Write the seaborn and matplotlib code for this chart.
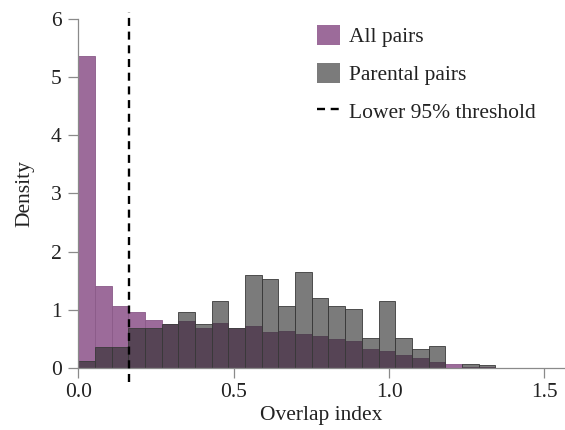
import numpy as np
import pandas as pd
import matplotlib
matplotlib.use("Agg")
import matplotlib.pyplot as plt
from matplotlib.patches import Patch
from matplotlib.lines import Line2D
import seaborn as sns

# ---- data ----
bin_width = 1.61 / 30
all_pairs = [5.36, 1.40, 1.07, 0.954, 0.815, 0.75, 0.80, 0.688, 0.769, 0.69,
             0.72, 0.62, 0.636, 0.572, 0.54, 0.497, 0.468, 0.33, 0.29, 0.22,
             0.16, 0.104, 0.055, 0.02, 0.02]
parental_pairs = [0.116, 0.364, 0.364, 0.688, 0.688, 0.745, 0.954, 0.757, 1.14, 0.69,
                  1.59, 1.53, 1.07, 1.65, 1.20, 1.07, 1.01, 0.503, 1.14, 0.503,
                  0.318, 0.376, 0.0, 0.055, 0.05]
threshold = 0.163
x_ticks = [0.0, 0.5, 1.0, 1.5]
y_ticks = [0, 1, 2, 3, 4, 5, 6]
labels = ["All pairs", "Parental pairs", "Lower 95% threshold"]

n = len(all_pairs)
edges = np.arange(n + 1) * bin_width
centers = edges[:-1] + bin_width / 2
df_all = pd.DataFrame({"overlap": centers, "density": all_pairs})
df_par = pd.DataFrame({"overlap": centers, "density": parental_pairs})

sns.set_theme(style="ticks")
plt.rcParams["font.family"] = ["Liberation Serif", "DejaVu Serif"]

fs = 15.5
text_color = "#222222"
spine_color = "#8a8a8a"
purple = "#9c6b9a"
dark = "#2e2e2e"
dash_pat = (3.4, 2.4)

fig = plt.figure(figsize=(5.65, 4.30), dpi=100)
ax = fig.add_axes([0.1386, 0.1449, 0.8614, 0.8102])

brange = (0, n * bin_width)
sns.histplot(data=df_all, x="overlap", weights="density", binwidth=bin_width,
             binrange=brange, stat="count",
             color=purple, alpha=1.0, edgecolor="#8a5a88", linewidth=0.6, ax=ax)
sns.histplot(data=df_par, x="overlap", weights="density", binwidth=bin_width,
             binrange=brange, stat="count",
             color=dark, alpha=0.63, edgecolor="#3a3a3a", linewidth=0.6, ax=ax)

ax.axvline(threshold, ymin=-0.04, ymax=1.02, color="black", linewidth=1.7,
           dashes=dash_pat, clip_on=False, zorder=5)

ax.set_xlim(0, 1.566)
ax.set_ylim(0, 6)
ax.set_xticks(x_ticks)
ax.set_xticklabels([f"{t:.1f}" for t in x_ticks])
ax.set_yticks(y_ticks)
ax.set_yticklabels([str(t) for t in y_ticks])

for s in ["top", "right"]:
    ax.spines[s].set_visible(False)
for s in ["left", "bottom"]:
    ax.spines[s].set_color(spine_color)
    ax.spines[s].set_linewidth(0.9)
ax.tick_params(axis="both", direction="out", length=7, width=0.9, color=spine_color,
               labelsize=fs, labelcolor=text_color, pad=4)
ax.tick_params(axis="y", pad=5)

ax.set_xlabel("Overlap index", fontsize=fs, color=text_color, labelpad=3)
ax.set_ylabel("Density", fontsize=fs, color=text_color, labelpad=12)

handles = [Patch(facecolor=purple, edgecolor="none"),
           Patch(facecolor="#7b7b7b", edgecolor="none"),
           Line2D([0], [0], color="black", linewidth=1.7, dashes=dash_pat)]
leg = fig.legend(handles, labels, loc="upper left",
                 bbox_to_anchor=(317 / 565, 1 - 25 / 430),
                 frameon=False, fontsize=fs, handlelength=1.05, handleheight=1.05,
                 handletextpad=0.45, labelspacing=0.72, borderpad=0, borderaxespad=0)
for t in leg.get_texts():
    t.set_color(text_color)

fig.savefig("out.png", dpi=100)
